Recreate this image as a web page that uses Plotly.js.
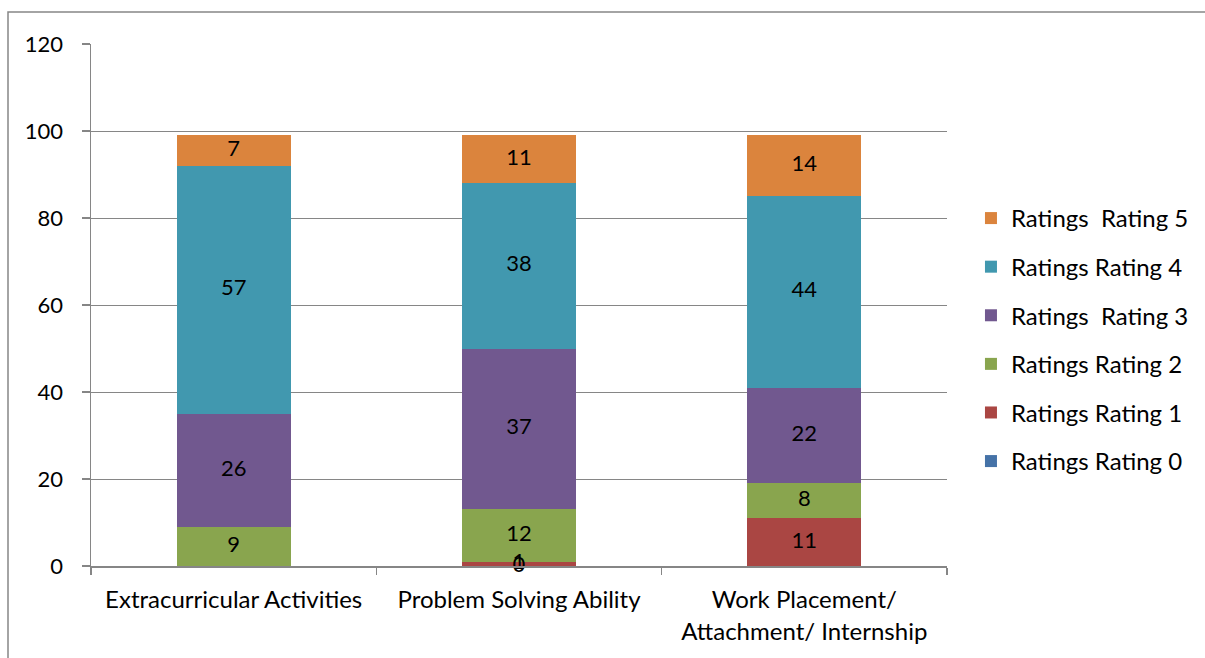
<!DOCTYPE html>
<html><head><meta charset="utf-8">
<script src="https://cdn.plot.ly/plotly-3.0.1.min.js"></script>
<style>html,body{margin:0;padding:0;background:#fff}#chart{width:1205px;height:658px}</style>
</head><body><div id="chart"></div>
<script>
const categories = ["Extracurricular Activities", "Problem Solving Ability", "Work Placement/<br>Attachment/ Internship"];
const seriesNames = ["Ratings Rating 0", "Ratings Rating 1", "Ratings Rating 2", "Ratings  Rating 3", "Ratings Rating 4", "Ratings  Rating 5"];
const rating0 = [null, 0, null];
const rating1 = [null, 1, 11];
const rating2 = [9, 12, 8];
const rating3 = [26, 37, 22];
const rating4 = [57, 38, 44];
const rating5 = [7, 11, 14];
const colors = ["#4572A7", "#AA4643", "#89A54E", "#71588F", "#4198AF", "#DB843D"];

const series = [rating0, rating1, rating2, rating3, rating4, rating5];
const FONT = "Lato, 'Open Sans', sans-serif";
const traces = series.map((vals, i) => ({
  type: "bar",
  name: seriesNames[i],
  x: categories,
  y: vals,
  marker: {color: colors[i], line: {width: 0}},
  legendgroup: "g" + i,
  legendrank: 100 - i,
  hoverinfo: "skip"
}));

// data labels at the middle of each stacked segment
const lblX = [], lblY = [], lblT = [];
categories.forEach((c, ci) => {
  let base = 0;
  series.forEach(vals => {
    const v = vals[ci];
    if (v === null) return;
    lblX.push(c); lblY.push(base + v / 2); lblT.push(String(v));
    base += v;
  });
});
traces.push({
  type: "scatter", mode: "text", x: lblX, y: lblY, text: lblT,
  textposition: "middle center",
  textfont: {family: FONT, size: 22, color: "#000"},
  showlegend: false, hoverinfo: "skip", cliponaxis: false
});

const layout = {
  width: 1205, height: 658,
  margin: {l: 91, r: 258, t: 44, b: 92, autoexpand: false},
  paper_bgcolor: "#fff", plot_bgcolor: "#fff",
  barmode: "stack",
  bargap: 0.6,
  font: {family: FONT, size: 24, color: "#000"},
  xaxis: {
    type: "category",
    showline: true, linecolor: "#868686", linewidth: 1.5,
    ticks: "outside", ticklen: 7, tickcolor: "#868686", tickwidth: 1.5,
    tickson: "boundaries",
    ticklabelstandoff: 12,
    showgrid: false,
    automargin: false,
    tickfont: {family: FONT, size: 24, color: "#000"}
  },
  yaxis: {
    range: [0, 120], dtick: 20,
    showline: true, linecolor: "#868686", linewidth: 1.5,
    ticks: "outside", ticklen: 8, tickcolor: "#868686", tickwidth: 1.5,
    ticklabelstandoff: 14,
    showgrid: true, gridcolor: "#868686", gridwidth: 1,
    zeroline: false,
    automargin: false,
    tickfont: {family: FONT, size: 22, color: "#000"}
  },
  legend: {
    x: 0.028 + 1, xanchor: "left", y: 0.433, yanchor: "middle",
    traceorder: "grouped",
    tracegroupgap: 14.4,
    font: {family: FONT, size: 24, color: "#000"},
    itemwidth: 30
  },
  shapes: [{
    type: "rect", xref: "paper", yref: "paper",
    x0: -83/856, x1: 1.5, y0: -0.3, y1: 1 + 32/522,
    line: {color: "#868686", width: 1.5}, fillcolor: "rgba(0,0,0,0)", layer: "below"
  }],
  showlegend: true
};

Plotly.newPlot("chart", traces, layout, {displayModeBar: false, staticPlot: true});
</script>
</body></html>
